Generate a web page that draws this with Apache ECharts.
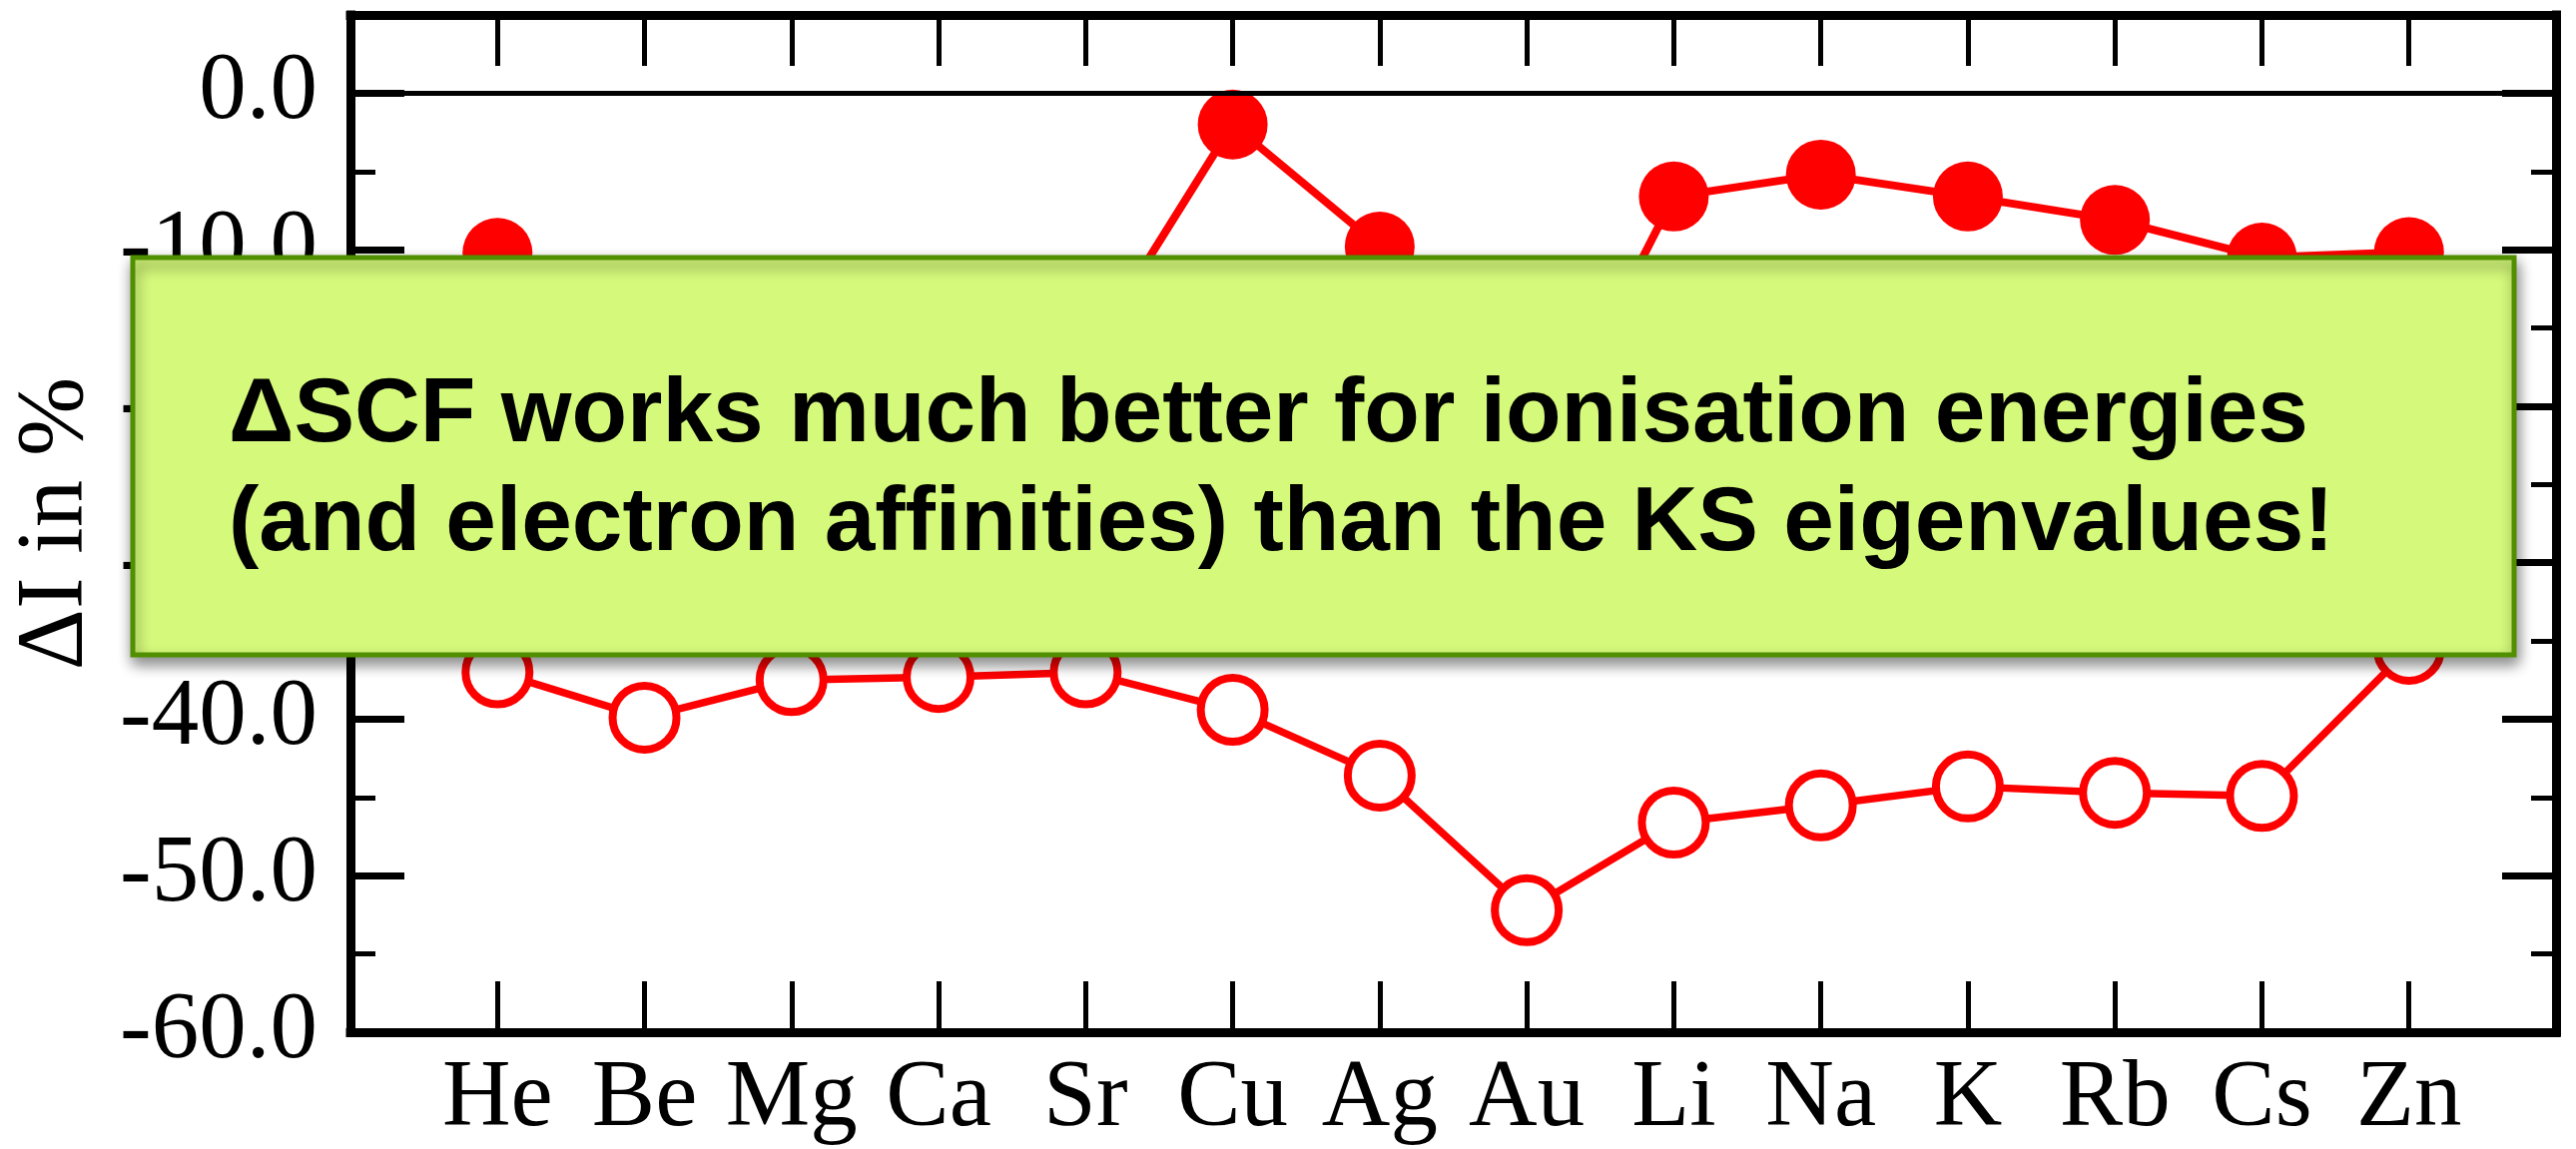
<!DOCTYPE html>
<html>
<head>
<meta charset="utf-8">
<script src="https://cdn.jsdelivr.net/npm/echarts@6/dist/echarts.min.js"></script>
<style>
html,body{margin:0;padding:0;background:#fff;}
#chart{width:2580px;height:1151px;}
</style>
</head>
<body>
<div id="chart"></div>
<script>
// ---- data ----
const categories = ['He','Be','Mg','Ca','Sr','Cu','Ag','Au','Li','Na','K','Rb','Cs','Zn'];
// Delta-SCF errors (filled circles); Be, Mg, Ca, Sr, Au are hidden behind the note box (estimated)
const deltaScf = [-10.2, -14.5, -14.0, -15.0, -17.0, -2.0, -9.8, -25.0, -6.6, -5.2, -6.6, -8.1, -10.5, -10.15];
// KS eigenvalue errors (open circles)
const ksEigen = [-37.0, -39.9, -37.5, -37.3, -37.0, -39.4, -43.6, -52.2, -46.6, -45.5, -44.3, -44.7, -44.9, -35.5];
const yTicks = [-60, -50, -40, -30, -20, -10, 0];
const yTitle = '\u0394I in %';
const noteLines = ['\u0394SCF works much better for ionisation energies', '(and electron affinities) than the KS eigenvalues!'];

const serif = '"Liberation Serif", "Times New Roman", serif';
const sans = '"Liberation Sans", Arial, sans-serif';
const RED = '#ff0000';

const chart = echarts.init(document.getElementById('chart'), null, {renderer: 'canvas'});

function xAxisDef(pos, showLabels) {
  return {
    type: 'value', position: pos, min: 0, max: categories.length + 1, interval: 1,
    axisLine: {show: true, onZero: false, lineStyle: {color: '#000', width: 9, cap: 'square'}},
    axisTick: {show: true, inside: true, length: 51, lineStyle: {color: '#000', width: 5}},
    axisLabel: {
      show: showLabels, margin: 21, color: '#000', fontFamily: serif, fontSize: 95,
      formatter: v => (v >= 1 && v <= categories.length) ? categories[v - 1] : ''
    },
    splitLine: {show: false}
  };
}
function yAxisDef(pos, major, showLabels) {
  const d = {
    type: 'value', position: pos, min: yTicks[0], max: 5, interval: major ? 10 : 5,
    axisLine: {show: major, onZero: false, lineStyle: {color: '#000', width: 9, cap: 'square'}},
    axisTick: {show: true, inside: true, length: major ? 54 : 25, lineStyle: {color: '#000', width: major ? 7 : 5}},
    axisLabel: {
      show: showLabels, margin: 33, color: '#000', fontFamily: serif, fontSize: 95, showMaxLabel: false,
      formatter: v => (yTicks.indexOf(v) >= 0) ? v.toFixed(1) : ''
    },
    splitLine: {show: false}
  };
  if (showLabels) {
    d.name = yTitle;
    d.nameLocation = 'middle';
    d.nameGap = 246;
    d.nameTextStyle = {color: '#000', fontFamily: serif, fontSize: 95};
  }
  return d;
}

const option = {
  backgroundColor: '#fff',
  animation: false,
  grid: {left: 351, top: 15, width: 2209, height: 1019, containLabel: false, outerBoundsMode: 'none'},
  xAxis: [xAxisDef('bottom', true), xAxisDef('top', false)],
  yAxis: [yAxisDef('left', true, true), yAxisDef('left', false, false), yAxisDef('right', true, false), yAxisDef('right', false, false)],
  series: [
    {
      type: 'line', xAxisIndex: 0, yAxisIndex: 0, z: 3,
      data: deltaScf.map((v, i) => [i + 1, v]),
      symbol: 'circle', symbolSize: 70,
      itemStyle: {color: RED},
      lineStyle: {color: RED, width: 8},
      markLine: {
        silent: true, symbol: 'none', label: {show: false},
        lineStyle: {color: '#000', width: 5, type: 'solid'},
        data: [{yAxis: 0}]
      }
    },
    {
      type: 'line', xAxisIndex: 0, yAxisIndex: 0, z: 3,
      data: ksEigen.map((v, i) => [i + 1, v]),
      symbol: 'circle', symbolSize: 64,
      itemStyle: {color: '#fff', borderColor: RED, borderWidth: 8},
      lineStyle: {color: RED, width: 7.5},
      emphasis: {disabled: true}
    }
  ],
  graphic: [
    {
      type: 'rect', z: 100,
      shape: {x: 133, y: 258, width: 2385, height: 398},
      style: {fill: '#d5fa7b', stroke: '#4f8f00', lineWidth: 5,
              shadowBlur: 14, shadowOffsetX: 2, shadowOffsetY: 7, shadowColor: 'rgba(0,0,0,0.45)'}
    },
    {
      type: 'text', z: 101, x: 229, y: 362,
      style: {
        text: noteLines.join('\n'), fill: '#000',
        font: 'bold 91px ' + sans, lineHeight: 109,
        align: 'left', verticalAlign: 'top'
      }
    }
  ]
};
chart.setOption(option);
</script>
</body>
</html>
